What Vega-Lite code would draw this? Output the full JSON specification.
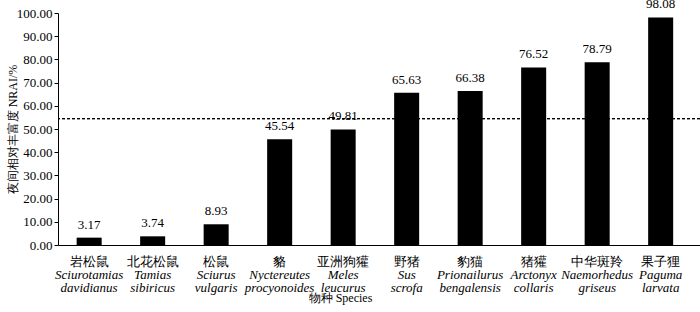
{
  "$schema": "https://vega.github.io/schema/vega-lite/v6.json",
  "width": 642,
  "height": 232,
  "autosize": {"type": "none"},
  "padding": {"left": 58, "top": 13, "right": 0, "bottom": 67},
  "background": "white",
  "config": {
    "view": {"stroke": null},
    "font": "Liberation Serif",
    "axis": {"labelFont": "Liberation Serif", "titleFont": "Liberation Serif"},
    "axisY": {"tickCount": 10, "labelOverlap": false},
    "text": {"font": "Liberation Serif"}
  },
  "data": {
    "values": [
      {"cn": "岩松鼠", "latin": "Sciurotamias\ndavidianus", "v": 3.17},
      {"cn": "北花松鼠", "latin": "Tamias\nsibiricus", "v": 3.74},
      {"cn": "松鼠", "latin": "Sciurus\nvulgaris", "v": 8.93},
      {"cn": "貉", "latin": "Nyctereutes\nprocyonoides", "v": 45.54},
      {"cn": "亚洲狗獾", "latin": "Meles\nleucurus", "v": 49.81},
      {"cn": "野猪", "latin": "Sus\nscrofa", "v": 65.63},
      {"cn": "豹猫", "latin": "Prionailurus\nbengalensis", "v": 66.38},
      {"cn": "猪獾", "latin": "Arctonyx\ncollaris", "v": 76.52},
      {"cn": "中华斑羚", "latin": "Naemorhedus\ngriseus", "v": 78.79},
      {"cn": "果子狸", "latin": "Paguma\nlarvata", "v": 98.08}
    ]
  },
  "layer": [
    {
      "mark": {"type": "bar", "color": "black"},
      "encoding": {
        "x": {
          "field": "cn",
          "type": "nominal",
          "sort": null,
          "scale": {"paddingInner": 0.606, "paddingOuter": 0.358, "align": 0.41},
          "axis": {
            "title": "物种 Species",
            "titleFontSize": 12,
            "titleFontWeight": "normal",
            "titleColor": "black",
            "titleX": 282,
            "titleY": 52,
            "titleBaseline": "middle",
            "labelAngle": 0,
            "labelFontSize": 13,
            "labelColor": "black",
            "labelPadding": 10,
            "labelOverlap": false,
            "ticks": false,
            "domainColor": "black",
            "domainWidth": 1
          }
        },
        "y": {
          "field": "v",
          "type": "quantitative",
          "scale": {"domain": [0, 100], "nice": false},
          "axis": {
            "title": "夜间相对丰富度 NRAI/%",
            "titleFontSize": 12,
            "titleFontWeight": "normal",
            "titleColor": "black",
            "titleAngle": -90,
            "titleX": -46,
            "titleY": 116,
            "titleBaseline": "middle",
            "titleAlign": "center",
            "format": ".2f",
            "tickCount": 10,
            "labelOverlap": false,
            "labelFontSize": 13,
            "labelColor": "black",
            "labelPadding": 2,
            "tickSize": 4,
            "tickColor": "black",
            "domainColor": "black",
            "grid": false
          }
        }
      }
    },
    {
      "mark": {"type": "text", "baseline": "bottom", "dy": -6, "fontSize": 13, "font": "Liberation Serif", "color": "black", "clip": false},
      "encoding": {
        "x": {"field": "cn", "type": "nominal", "sort": null},
        "y": {"field": "v", "type": "quantitative"},
        "text": {"field": "v", "type": "quantitative", "format": ".2f"}
      }
    },
    {
      "mark": {"type": "text", "baseline": "top", "dy": 24, "fontSize": 13, "font": "Liberation Serif", "fontStyle": "italic", "lineBreak": "\n", "lineHeight": 12.5, "color": "black", "clip": false},
      "encoding": {
        "x": {"field": "cn", "type": "nominal", "sort": null},
        "y": {"datum": 0},
        "text": {"field": "latin"}
      }
    },
    {
      "mark": {"type": "rule", "strokeDash": [3, 2], "strokeWidth": 1, "color": "black"},
      "encoding": {
        "y": {"datum": 54.5}
      }
    }
  ]
}
